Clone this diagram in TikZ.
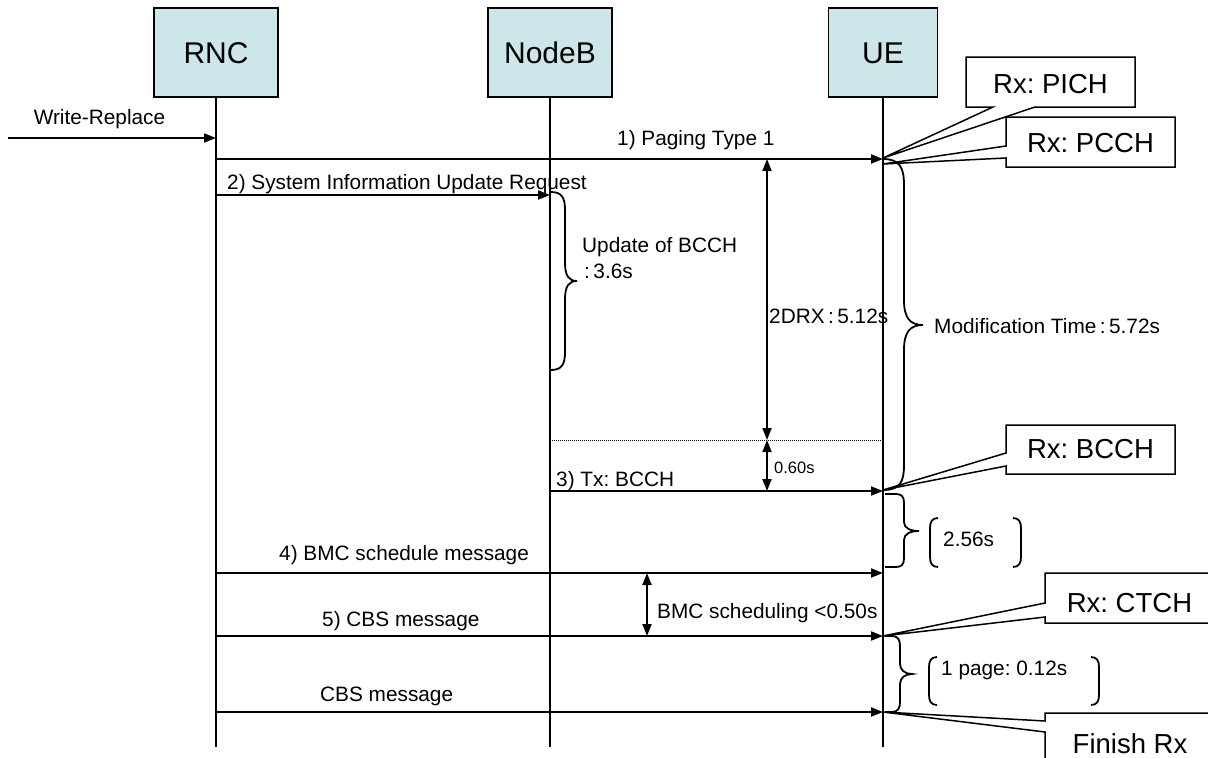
\documentclass[tikz,border=0pt]{standalone}
\usepackage{fontspec}
\setmainfont{Liberation Sans}
\usetikzlibrary{arrows.meta}
\definecolor{boxcyan}{RGB}{205,230,233}
\frenchspacing
\begin{document}
\frenchspacing
\begin{tikzpicture}[x=1pt,y=-1pt,
  ent/.style={draw=black, line width=1.2pt, fill=boxcyan, minimum width=124pt, minimum height=89pt, font=\fontsize{30}{36}\selectfont, inner sep=0pt, text height=21.5pt, text depth=0pt},
  life/.style={line width=1.8pt},
  msg/.style={line width=1.8pt, -{Triangle[length=12pt,width=9pt]}},
  dur/.style={line width=1.8pt, {Triangle[length=12pt,width=9pt]}-{Triangle[length=12pt,width=9pt]}},
  lbl/.style={font=\fontsize{20.8}{26}\selectfont, inner sep=0pt},
  callout/.style={draw=black, line width=1.5pt, fill=white, line join=miter},
  ctext/.style={font=\fontsize{27.5}{33}\selectfont, inner sep=0pt, anchor=base},
  bracepath/.style={line width=1.8pt},
]
\useasboundingbox (0,0) rectangle (1208,758);

% entities
\node[ent] (rnc) at (216,52.5) {RNC};
\node[ent] (nodeb) at (550,52.5) {NodeB};
\node[ent, minimum width=109pt] (ue) at (883,52.5) {UE};

% lifelines
\coordinate (rncB) at (216,747);
\coordinate (nbB) at (550,747);
\coordinate (ueB) at (883,747);
\draw[life] (rnc.south) -- (rncB);
\draw[life] (nodeb.south) -- (nbB);
\draw[life] (ue.south) -- (ueB);

% message coordinates
\coordinate (wrS) at (8,138);   \coordinate (wrE) at (216,138);
\coordinate (m1s) at (216,159); \coordinate (m1e) at (883,159);
\coordinate (m2s) at (216,195); \coordinate (m2e) at (550,195);
\coordinate (m3s) at (550,491); \coordinate (m3e) at (883,491);
\coordinate (m4s) at (216,573); \coordinate (m4e) at (883,573);
\coordinate (m5s) at (216,636); \coordinate (m5e) at (883,636);
\coordinate (m6s) at (216,712); \coordinate (m6e) at (883,712);
\coordinate (d1a) at (767,159); \coordinate (d1b) at (767,440);
\coordinate (d2b) at (767,491);
\coordinate (d3a) at (647,573); \coordinate (d3b) at (647,636);
\coordinate (dotS) at (550,440); \coordinate (dotE) at (883,440);

\draw[msg] (wrS) -- (wrE);
\draw[msg] (m1s) -- (m1e);
\draw[msg] (m2s) -- (m2e);
\draw[msg] (m3s) -- (m3e);
\draw[msg] (m4s) -- (m4e);
\draw[msg] (m5s) -- (m5e);
\draw[msg] (m6s) -- (m6e);
\draw[dur] (d1a) -- (d1b);
\draw[dur] (d1b) -- (d2b);
\draw[dur] (d3a) -- (d3b);
\draw[line width=1pt, dash pattern=on 1pt off 1pt] (dotS) -- (dotE);

% labels
\node[lbl, anchor=base] (lwr) at (99.5,124) {Write-Replace};
\node[lbl, anchor=base west] (l1) at (617,145) {1) Paging Type 1};
\node[lbl, anchor=base west] (l2) at (227,189) {2) System Information Update Request};
\node[lbl, anchor=base west] (l3) at (556,486) {3) Tx: BCCH};
\node[lbl, anchor=base west] (l4) at (279,560) {4) BMC schedule message};
\node[lbl, anchor=base west] (l5) at (322,626) {5) CBS message};
\node[lbl, anchor=base west] (l6) at (320,701) {CBS message};
\node[lbl, anchor=base west] (lsch) at (657,618) {BMC scheduling <0.50s};
\node[lbl, anchor=base west, font=\fontsize{16.5}{20}\selectfont] (l060) at (774,473) {0.60s};
\node[lbl, anchor=base west, align=left] (lupd) at (582,278) {Update of BCCH\\\hspace{2pt}:\,3.6s};
\node[lbl, anchor=base west] (ldrx) at (769,323) {2DRX\,:\,5.12s};
\node[lbl, anchor=base west] (lmod) at (934,333) {Modification Time\,:\,5.72s};
\node[lbl, anchor=base west] (l256) at (943,546) {2.56s};
\node[lbl, anchor=base west] (lpage) at (941,675) {1 page: 0.12s};

% braces
\draw[bracepath] (883,159) .. controls (900,159) and (904,168) .. (904,185) -- (904,300)
  .. controls (904,318) and (910,325) .. (923,325) .. controls (910,325) and (904,332) .. (904,350)
  -- (904,465) .. controls (904,482) and (900,490) .. (883,490);
\draw[bracepath] (551,192) .. controls (562,192) and (565,198) .. (565,210) -- (565,263)
  .. controls (565,276) and (569,281) .. (577,281) .. controls (569,281) and (565,286) .. (565,299)
  -- (565,352) .. controls (565,364) and (562,370) .. (551,370);
\draw[bracepath] (885,494) -- (896,494) .. controls (902,494) and (904,497) .. (904,503) -- (904,522)
  .. controls (904,528) and (910,531) .. (919,531) .. controls (910,531) and (904,534) .. (904,540)
  -- (904,558) .. controls (904,564) and (902,567) .. (896,567) -- (885,567);
\draw[bracepath] (885,636) -- (892,636) .. controls (898,636) and (900,640) .. (900,646) -- (900,664)
  .. controls (900,670) and (905,674) .. (912,674) .. controls (905,674) and (900,678) .. (900,684)
  -- (900,702) .. controls (900,708) and (898,712) .. (892,712) -- (885,712);

% bracket pairs
\draw[bracepath] (938,518) .. controls (932,518) and (930,522) .. (930,528) -- (930,557) .. controls (930,563) and (932,567) .. (938,567);
\draw[bracepath] (1013,518) .. controls (1019,518) and (1021,522) .. (1021,528) -- (1021,557) .. controls (1021,563) and (1019,567) .. (1013,567);
\draw[bracepath] (937,657) .. controls (931,657) and (929,661) .. (929,667) -- (929,695) .. controls (929,701) and (931,705) .. (937,705);
\draw[bracepath] (1091,657) .. controls (1097,657) and (1099,661) .. (1099,667) -- (1099,695) .. controls (1099,701) and (1097,705) .. (1091,705);

% callouts
\draw[callout] (966,57) -- (1135,57) -- (1135,107) -- (1035,107) -- (883,158) -- (993,107) -- (966,107) -- cycle;
\draw[callout] (1006,117) -- (1175,117) -- (1175,167) -- (1006,167) -- (1006,158) -- (883,164) -- (1006,146) -- cycle;
\draw[callout] (1006,425) -- (1175,425) -- (1175,474) -- (1006,474) -- (1006,466) -- (883,490) -- (1006,453) -- cycle;
\draw[callout] (1045,573) -- (1214,573) -- (1214,623) -- (1045,623) -- (1045,617) -- (883,636) -- (1045,603) -- cycle;
\draw[callout] (1045,713) -- (1214,713) -- (1214,763) -- (1045,763) -- (1045,732) -- (883,712) -- (1045,721) -- cycle;
\node[ctext] (tpich) at (1050.5,93) {Rx: PICH};
\node[ctext] (tpcch) at (1090.5,152) {Rx: PCCH};
\node[ctext] (tbcch) at (1090.5,458) {Rx: BCCH};
\node[ctext] (tctch) at (1129.5,612) {Rx: CTCH};
\node[ctext] (tfin) at (1130,753) {Finish Rx};
\end{tikzpicture}
\end{document}
